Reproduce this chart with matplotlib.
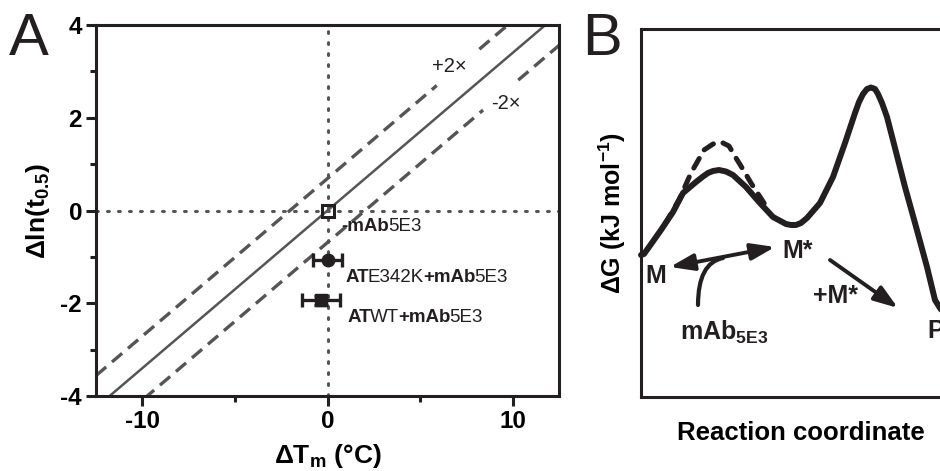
import numpy as np
import matplotlib
matplotlib.use('Agg')
import matplotlib.pyplot as plt

plt.rcParams['font.family'] = ['Liberation Sans', 'DejaVu Sans']
plt.rcParams['mathtext.fontset'] = 'custom'
plt.rcParams['mathtext.rm'] = 'Liberation Sans'
plt.rcParams['mathtext.bf'] = 'Liberation Sans:bold'
plt.rcParams['mathtext.it'] = 'Liberation Sans:italic'
plt.rcParams['axes.unicode_minus'] = False

INK = '#231f20'
GREY = '#555555'

# ---- panel A data ----
xticks_a = [-10, 0, 10]
xminor_a = [-5, 5]
yticks_a = [-4, -2, 0, 2, 4]
yminor_a = [-3, -1, 1, 3]
fit_slope = 0.34
fold_shift = 0.69          # ln(2), the +/- 2x lines
upper_segments = [(-12.5, 5.9), (8.2, 12.5)]
lower_segments = [(-12.5, 8.4), (10.3, 12.5)]

free_x, free_y = 0.0, 0.0
e342k_x, e342k_y, e342k_xerr = 0.0, -1.07, 0.8
wt_x, wt_y, wt_xerr, wt_yerr = -0.33, -1.94, 1.03, 0.1

# ---- panel B data (schematic free energy profile) ----
path_x = [0.0, 0.3, 0.8, 2.0, 3.2, 4.2, 5.5, 6.2, 6.7, 7.2, 7.8, 8.5, 9.2, 10.5,
          11.8, 13.2, 14.5, 15.0, 15.5, 16.0, 16.6, 17.9, 19.2, 20.4, 21.4, 21.8,
          22.2, 22.6, 23.0, 23.4, 23.7, 24.1, 24.6, 25.4, 26.4, 27.4, 28.6, 29.4,
          29.9, 30.5, 31.5]
path_y = [14.2, 14.3, 15.0, 16.7, 18.5, 20.4, 21.5, 22.05, 22.4, 22.6, 22.7, 22.55,
          22.2, 21.0, 19.5, 18.0, 17.3, 17.2, 17.2, 17.4, 17.9, 19.4, 22.0, 25.4,
          28.4, 29.5, 30.3, 30.8, 30.95, 30.8, 30.3, 29.4, 28.0, 24.9, 21.0, 17.4,
          13.0, 9.7, 8.9, 8.0, 7.5]
dash_x = [2.4, 3.8, 5.0, 6.3, 7.2, 8.0, 8.8, 9.5, 10.3, 11.0, 12.3, 12.9]
dash_y = [17.3, 19.7, 22.4, 24.7, 25.3, 25.5, 25.1, 23.9, 22.6, 21.4, 19.4, 18.6]


def chain_text(ax, x, y, parts, size):
    t = ax.text(x, y, parts[0][0], fontweight=parts[0][1], fontsize=size,
                color=INK, va='baseline', zorder=5)
    for s, w in parts[1:]:
        t = ax.annotate(s, xy=(1, 0), xycoords=t, xytext=(-0.8, 0),
                        textcoords='offset points', va='bottom', fontweight=w,
                        fontsize=size, color=INK)
    return t


fig = plt.figure(figsize=(9.4, 4.71), dpi=100)

# ================= panel A =================
ax = fig.add_axes([96/940, 75/471, 463/940, 371/471])
ax.set_xlim(-12.5, 12.5)
ax.set_ylim(-4, 4)

ax.axhline(0, color=GREY, lw=2.2, ls=(0, (0.6, 3.0)), dash_capstyle='round', zorder=1)
ax.axvline(0, color=GREY, lw=2.2, ls=(0, (0.6, 3.0)), dash_capstyle='round', zorder=1)
ax.axline((0, 0), slope=fit_slope, color=GREY, lw=1.8, zorder=2)
for a, b in upper_segments:
    xs = np.array([a, b])
    ax.plot(xs, fit_slope * xs + fold_shift, color=GREY, lw=2.4, ls=(0, (4, 2.3)), zorder=2)
for a, b in lower_segments:
    xs = np.array([a, b])
    ax.plot(xs, fit_slope * xs - fold_shift, color=GREY, lw=2.4, ls=(0, (4, 2.3)), zorder=2)

ax.plot(free_x, free_y, 's', ms=9, mfc='none', mec=INK, mew=2.2, zorder=4)
ax.errorbar(e342k_x, e342k_y, xerr=e342k_xerr, fmt='o', ms=9, color=INK,
            elinewidth=2.4, capsize=5, capthick=2.4, zorder=4)
ax.errorbar(wt_x, wt_y, xerr=wt_xerr, yerr=wt_yerr, fmt='s', ms=9, color=INK,
            elinewidth=2.4, capsize=5, capthick=2.4, zorder=4)

chain_text(ax, 0.75, -0.45, [('-mAb', 'bold'), ('5E3', 'normal')], 13.5)
chain_text(ax, 0.97, -1.55, [('AT', 'bold'), ('E342K', 'normal'), ('+mAb', 'bold'),
                             ('5E3', 'normal')], 13.5)
chain_text(ax, 1.08, -2.41, [('AT', 'bold'), ('WT', 'normal'), ('+mAb', 'bold'),
                             ('5E3', 'normal')], 13.5)
ax.text(5.66, 2.98, '+2×', fontsize=14.5, color=INK, va='baseline')
ax.text(8.81, 2.18, '-2×', fontsize=14.5, color=INK, va='baseline')

ax.set_xticks(xticks_a)
ax.set_xticks(xminor_a, minor=True)
ax.set_yticks(yticks_a)
ax.set_yticks(yminor_a, minor=True)
ax.tick_params(which='major', length=7, width=2.2, labelsize=17.5, pad=3, color=INK)
ax.tick_params(which='minor', length=4, width=2.2, color=INK)
for lab in ax.get_xticklabels() + ax.get_yticklabels():
    lab.set_fontweight('bold')
for sp in ax.spines.values():
    sp.set_linewidth(2.2)
    sp.set_color(INK)

ax.set_xlabel(r'ΔT$_\mathbf{m}$ (°C)', fontsize=19, fontweight='bold', va='center')
ax.xaxis.set_label_coords(0.5, -0.163)
ax.set_ylabel(r'Δln(t$_\mathbf{0.5}$)', fontsize=19, fontweight='bold', va='center')
ax.yaxis.set_label_coords(-0.125, 0.5)

# ================= panel B =================
bx = fig.add_axes([641/940, 74/471, 320/940, 368/471])
bx.set_xlim(0, 32)
bx.set_ylim(0, 36.8)
bx.set_xticks([])
bx.set_yticks([])
bx.spines['right'].set_visible(False)
for sp in ['left', 'top', 'bottom']:
    bx.spines[sp].set_linewidth(2.2)
    bx.spines[sp].set_color(INK)

bx.plot(path_x, path_y, color=INK, lw=4.3, solid_joinstyle='round',
        solid_capstyle='round', clip_on=False, zorder=3)
bx.plot(dash_x, dash_y, color=INK, lw=3.6, ls=(0, (2.2, 2.0)),
        dash_capstyle='round', zorder=3)

head = dict(lw=2.8, color=INK, shrinkA=0, shrinkB=0, mutation_scale=20)
bx.annotate('', xy=(13.4, 15.0), xytext=(2.9, 13.0),
            arrowprops=dict(arrowstyle='<|-|>,head_length=0.72,head_width=0.25', **head))
bx.annotate('', xy=(25.7, 8.9), xytext=(18.9, 13.7),
            arrowprops=dict(arrowstyle='-|>,head_length=0.72,head_width=0.25', **head))
bx.annotate('', xy=(8.2, 13.9), xytext=(5.7, 9.2),
            arrowprops=dict(arrowstyle='-', lw=3, color=INK, shrinkA=0, shrinkB=0,
                            connectionstyle='angle3,angleA=90,angleB=11'))

tb = dict(fontsize=18, fontweight='bold', color=INK, va='baseline')
bx.text(0.4, 11.4, 'M', **tb)
bx.text(14.1, 13.9, 'M*', **tb)
bx.text(17.2, 9.4, '+M*', **tb)
bx.text(28.6, 5.9, 'P', **tb)
bx.text(3.9, 5.7, r'mAb$_\mathbf{5E3}$', **tb)

bx.set_xlabel('Reaction coordinate', fontsize=18.5, fontweight='bold', labelpad=17)
bx.set_ylabel(r'ΔG (kJ mol$^\mathbf{-1}$)', fontsize=18, fontweight='bold', labelpad=9)

fig.text(9/940, 1 - 55/471, 'A', fontsize=43, color=INK, va='baseline')
fig.text(582/940, 1 - 55/471, 'B', fontsize=43, color=INK, va='baseline')

fig.savefig('out.png', dpi=100)
